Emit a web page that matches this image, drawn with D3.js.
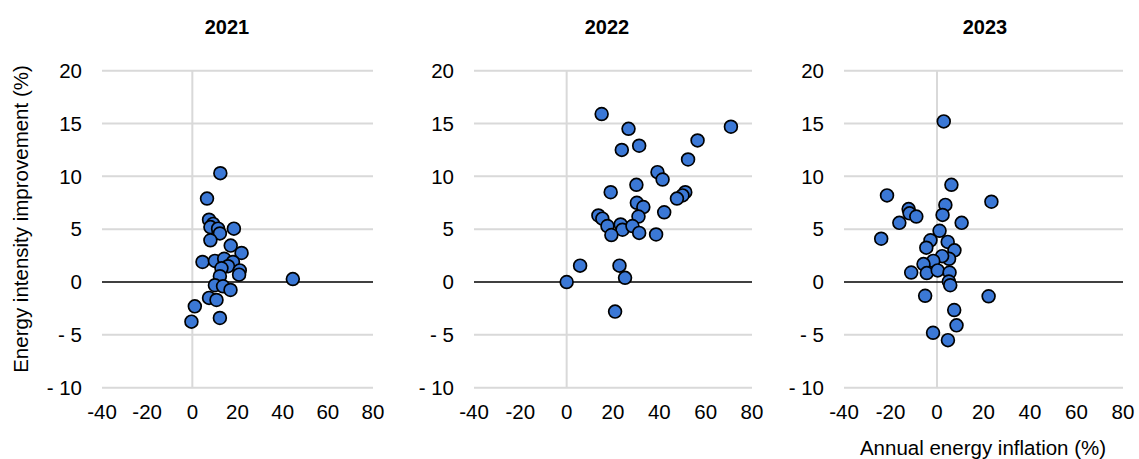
<!DOCTYPE html>
<html>
<head>
<meta charset="utf-8">
<script src="https://cdn.jsdelivr.net/npm/d3@7"></script>
<style>
  html, body { margin: 0; padding: 0; background: #fff; }
  svg { display: block; font-family: "Liberation Sans", Arial, sans-serif; }
</style>
</head>
<body>
<svg id="chart" width="1139" height="459"></svg>
<script>
// ---- Data ----
const years = ["2021", "2022", "2023"];

const inflation2021 = [12.4, 6.5, 7.4, 9.2, 8.0, 11.4, 12.2, 18.4, 8.0, 17.0, 21.8, 4.5, 10.0, 14.1, 18.0, 15.8, 12.9, 21.0, 20.7, 12.2, 10.0, 13.6, 16.9, 7.4, 10.7, 1.1, -0.4, 12.2, 44.5];
const improvement2021 = [10.3, 7.9, 5.9, 5.5, 5.2, 5.05, 4.6, 5.05, 3.95, 3.45, 2.75, 1.9, 2.0, 2.2, 1.9, 1.5, 1.3, 1.1, 0.7, 0.55, -0.3, -0.4, -0.75, -1.5, -1.7, -2.3, -3.75, -3.4, 0.28];

const inflation2022 = [15.1, 26.7, 31.3, 23.8, 70.9, 56.5, 52.4, 39.2, 41.4, 30.1, 19.0, 51.2, 50.0, 47.6, 30.3, 33.1, 42.1, 13.7, 15.4, 31.0, 17.6, 23.3, 24.1, 28.4, 31.3, 19.3, 38.6, 5.8, 22.8, 25.2, 0.0, 20.9];
const improvement2022 = [15.9, 14.5, 12.9, 12.5, 14.7, 13.4, 11.6, 10.4, 9.7, 9.2, 8.5, 8.5, 8.2, 7.9, 7.5, 7.1, 6.6, 6.3, 6.0, 6.2, 5.3, 5.45, 4.95, 5.3, 4.65, 4.45, 4.5, 1.55, 1.55, 0.4, 0.0, -2.8];

const inflation2023 = [2.9, 6.2, -21.5, 23.4, 3.6, -12.2, -11.8, -8.9, 2.4, -16.2, 10.6, 1.1, -24.0, -2.8, -4.6, 4.6, 7.5, 5.2, 2.2, -1.6, -5.8, -4.4, -11.1, 0.3, 5.4, 5.1, 5.7, -5.1, 22.2, 7.4, 8.4, -1.7, 4.7];
const improvement2023 = [15.2, 9.2, 8.2, 7.6, 7.3, 6.9, 6.5, 6.2, 6.35, 5.6, 5.6, 4.85, 4.1, 3.95, 3.25, 3.8, 3.0, 2.2, 2.45, 2.0, 1.7, 0.85, 0.9, 1.1, 0.9, 0.05, -0.3, -1.3, -1.35, -2.65, -4.1, -4.8, -5.5];

const xTicks = [-40, -20, 0, 20, 40, 60, 80];
const yTicks = [20, 15, 10, 5, 0, -5, -10];
const yTickLabels = ["20", "15", "10", "5", "0", "- 5", "- 10"];

const yAxisTitle = "Energy intensity improvement (%)";
const xAxisTitle = "Annual energy inflation (%)";

const seriesX = [inflation2021, inflation2022, inflation2023];
const seriesY = [improvement2021, improvement2022, improvement2023];

// ---- Layout ----
const panels = [
  { left: 102, right: 373, titleX: 227 },
  { left: 474, right: 752, titleX: 607 },
  { left: 844, right: 1123, titleX: 985 }
];
const plotTop = 70.7, plotBottom = 387.7;
const gridColor = "#d9d9d9";
const dotFill = "#3b78d6";
const fontSize = 20.5;

const svg = d3.select("#chart");

const yScale = d3.scaleLinear().domain([-10, 20]).range([plotBottom, plotTop]);

panels.forEach((p, i) => {
  const xScale = d3.scaleLinear().domain([-40, 80]).range([p.left, p.right]);
  const g = svg.append("g");

  // horizontal gridlines
  g.selectAll("line.hgrid")
    .data(yTicks.filter(v => v !== 0))
    .join("line")
    .attr("class", "hgrid")
    .attr("x1", p.left).attr("x2", p.right)
    .attr("y1", d => yScale(d)).attr("y2", d => yScale(d))
    .attr("stroke", gridColor).attr("stroke-width", 2);

  // vertical line at x=0
  g.append("line")
    .attr("x1", xScale(0)).attr("x2", xScale(0))
    .attr("y1", yScale(20)).attr("y2", yScale(-10))
    .attr("stroke", gridColor).attr("stroke-width", 2);

  // zero line
  g.append("line")
    .attr("x1", p.left).attr("x2", p.right)
    .attr("y1", yScale(0)).attr("y2", yScale(0))
    .attr("stroke", "#000").attr("stroke-width", 1.5);

  // y tick labels
  g.selectAll("text.ytick")
    .data(yTicks)
    .join("text")
    .attr("class", "ytick")
    .attr("x", p.left - 20)
    .attr("y", d => yScale(d))
    .attr("dy", "0.35em")
    .attr("text-anchor", "end")
    .attr("font-size", fontSize)
    .attr("fill", "#000")
    .text((d, j) => yTickLabels[j]);

  // x tick labels
  g.selectAll("text.xtick")
    .data(xTicks)
    .join("text")
    .attr("class", "xtick")
    .attr("x", d => xScale(d))
    .attr("y", 419)
    .attr("text-anchor", "middle")
    .attr("font-size", fontSize)
    .attr("fill", "#000")
    .text(d => d);

  // title
  g.append("text")
    .attr("x", p.titleX)
    .attr("y", 34)
    .attr("text-anchor", "middle")
    .attr("font-size", 20)
    .attr("font-weight", "bold")
    .text(years[i]);

  // points
  const pts = seriesX[i].map((v, k) => ({ x: v, y: seriesY[i][k] }));
  g.selectAll("circle")
    .data(pts)
    .join("circle")
    .attr("cx", d => xScale(d.x))
    .attr("cy", d => yScale(d.y))
    .attr("r", 6.4)
    .attr("fill", dotFill)
    .attr("stroke", "#000")
    .attr("stroke-width", 1.7);
});

// axis titles
svg.append("text")
  .attr("transform", "translate(28,219) rotate(-90)")
  .attr("text-anchor", "middle")
  .attr("font-size", fontSize)
  .text(yAxisTitle);

svg.append("text")
  .attr("x", 983)
  .attr("y", 455)
  .attr("text-anchor", "middle")
  .attr("font-size", fontSize)
  .text(xAxisTitle);
</script>
</body>
</html>
